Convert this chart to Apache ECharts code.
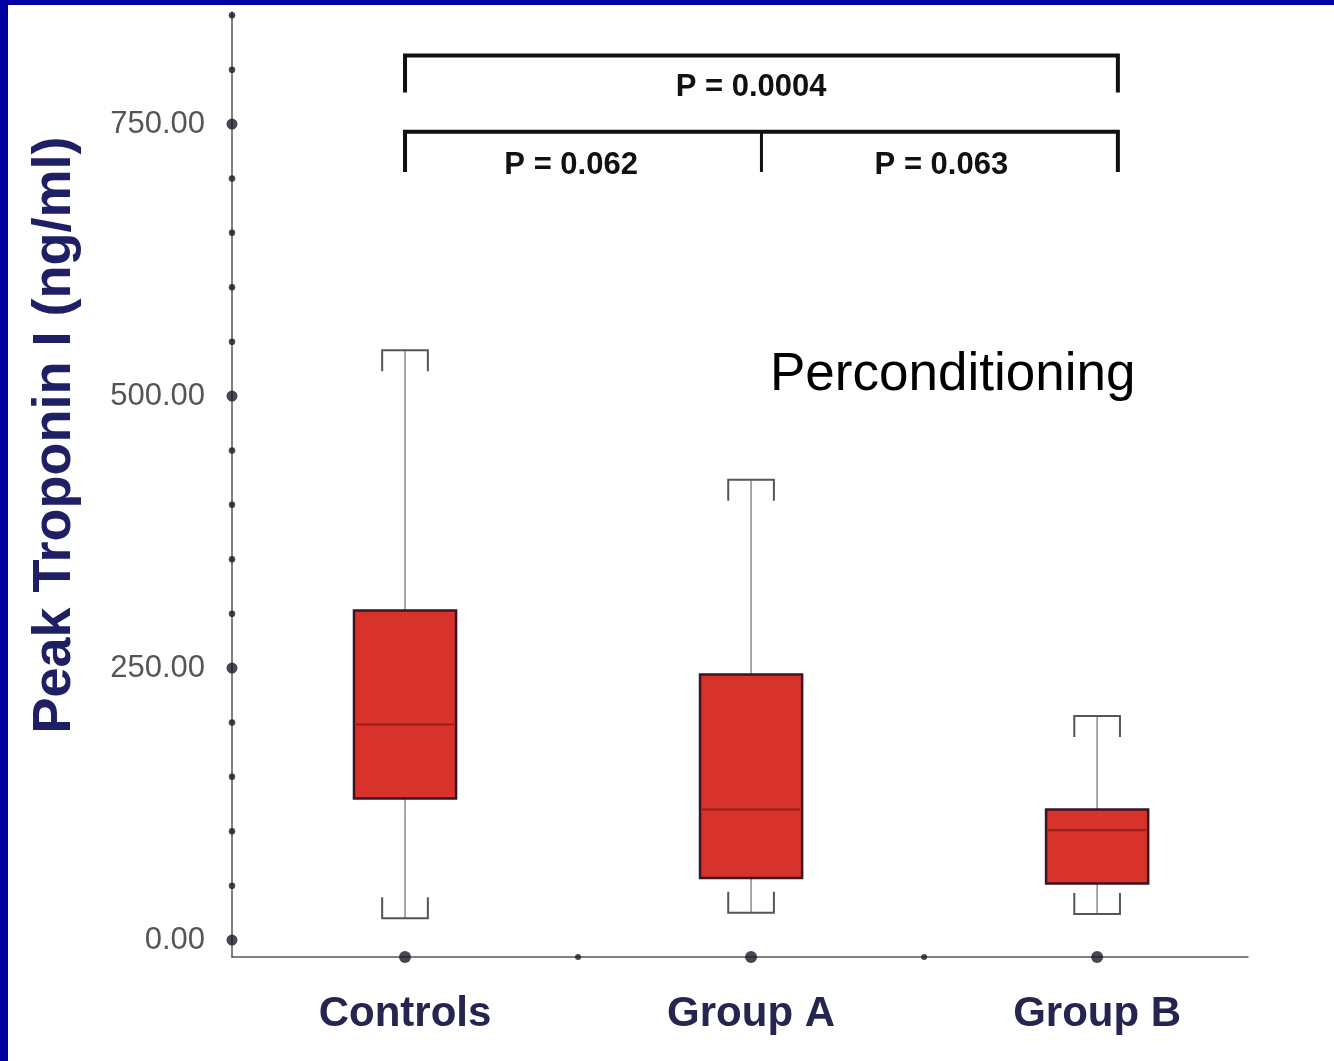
<!DOCTYPE html>
<html>
<head>
<meta charset="utf-8">
<script src="https://cdn.jsdelivr.net/npm/echarts@6/dist/echarts.min.js"></script>
<style>
html,body{margin:0;padding:0;background:#fff;}
#chart{width:1334px;height:1061px;}
</style>
</head>
<body>
<div id="chart"></div>
<script>
// ---- data ----
const categories = ['Controls', 'Group A', 'Group B'];
const lowWhisker  = [20, 25, 24];
const q1Values    = [130, 57, 52];
const medians     = [198, 120, 101];
const q3Values    = [303, 244, 120];
const highWhisker = [542, 423, 206];

const yMajorTicks = [0, 250, 500, 750];
const yMinorTicks = [50, 100, 150, 200, 300, 350, 400, 450, 550, 600, 650, 700, 800, 850];
const xMidTicks   = [0.5, 1.5];

const pLabels = ['P = 0.0004', 'P = 0.062', 'P = 0.063'];
const noteText = 'Perconditioning';
const yTitle = 'Peak Troponin I (ng/ml)';

// ---- build ----
const Y_MIN = -15.6, Y_MAX = 853;
const X_MIN = -0.5, X_MAX = 2.436;

const boxData = categories.map((c, i) => [i, lowWhisker[i], q1Values[i], medians[i], q3Values[i], highWhisker[i]]);

// brackets: [x1, x2, yTop, yEnd, xMid]
const brackets = [
  [0, 2.06, 813, 779, null],
  [0, 2.06, 743, 706, 1.03]
];
const pPositions = [[1.0, 784], [0.48, 712], [1.55, 712]];

function renderBox(params, api) {
  const x = api.value(0);
  const lo = api.coord([x, api.value(1)]);
  const q1 = api.coord([x, api.value(2)]);
  const md = api.coord([x, api.value(3)]);
  const q3 = api.coord([x, api.value(4)]);
  const hi = api.coord([x, api.value(5)]);
  const cx = lo[0];
  const hw = api.size([0.295, 0])[0] / 2;
  const ch = api.size([0.066, 0])[0];
  const tl = 21;
  return {
    type: 'group',
    children: [
      {type: 'line', shape: {x1: cx, y1: q3[1], x2: cx, y2: hi[1]}, style: {stroke: '#8c8c8c', lineWidth: 1.5}},
      {type: 'line', shape: {x1: cx, y1: q1[1], x2: cx, y2: lo[1]}, style: {stroke: '#8c8c8c', lineWidth: 1.5}},
      {type: 'polyline', shape: {points: [[cx - ch, hi[1] + tl], [cx - ch, hi[1]], [cx + ch, hi[1]], [cx + ch, hi[1] + tl]]}, style: {stroke: '#555', lineWidth: 2, fill: null}},
      {type: 'polyline', shape: {points: [[cx - ch, lo[1] - tl], [cx - ch, lo[1]], [cx + ch, lo[1]], [cx + ch, lo[1] - tl]]}, style: {stroke: '#555', lineWidth: 2, fill: null}},
      {type: 'rect', shape: {x: cx - hw, y: q3[1], width: 2 * hw, height: q1[1] - q3[1]}, style: {fill: '#d8332a', stroke: '#3a1426', lineWidth: 2.5}},
      {type: 'line', shape: {x1: cx - hw + 2, y1: md[1], x2: cx + hw - 2, y2: md[1]}, style: {stroke: '#9b1a1a', lineWidth: 2}}
    ]
  };
}

function renderBracket(params, api) {
  const b = brackets[params.dataIndex];
  const a = api.coord([b[0], b[2]]);
  const c = api.coord([b[1], b[2]]);
  const e = api.coord([b[0], b[3]]);
  const children = [
    {type: 'polyline', shape: {points: [[a[0], e[1]], [a[0], a[1]], [c[0], c[1]], [c[0], e[1]]]}, style: {stroke: '#111', lineWidth: 4, fill: null}}
  ];
  if (b[4] != null) {
    const m = api.coord([b[4], b[2]]);
    children.push({type: 'line', shape: {x1: m[0], y1: m[1], x2: m[0], y2: e[1]}, style: {stroke: '#111', lineWidth: 3}});
  }
  return {type: 'group', children: children};
}

function renderP(params, api) {
  const p = api.coord([api.value(0), api.value(1)]);
  return {
    type: 'text',
    style: {text: pLabels[params.dataIndex], x: p[0], y: p[1], align: 'center', verticalAlign: 'middle',
            font: 'bold 31px "Liberation Sans", Arial, sans-serif', fill: '#111'}
  };
}

const chart = echarts.init(document.getElementById('chart'));
chart.setOption({
  backgroundColor: '#ffffff',
  animation: false,
  grid: {left: 232, right: 86, top: 12, bottom: 104},
  xAxis: {
    type: 'value', min: X_MIN, max: X_MAX,
    splitLine: {show: false},
    axisLine: {show: true, onZero: false, lineStyle: {color: '#555', width: 1.5}},
    axisTick: {show: false},
    axisLabel: {
      customValues: [0, 1, 2],
      formatter: v => categories[Math.round(v)],
      margin: 36,
      color: '#25254f',
      fontSize: 42, fontWeight: 'bold', fontFamily: '"Liberation Sans", Arial, sans-serif'
    }
  },
  yAxis: {
    type: 'value', min: Y_MIN, max: Y_MAX,
    splitLine: {show: false},
    axisLine: {show: true, onZero: false, lineStyle: {color: '#555', width: 1.5}},
    axisTick: {show: false},
    axisLabel: {
      customValues: yMajorTicks,
      formatter: v => v.toFixed(2),
      margin: 27,
      color: '#555',
      fontSize: 31, fontFamily: '"Liberation Sans", Arial, sans-serif'
    }
  },
  graphic: [
    {type: 'rect', left: 0, top: 0, shape: {width: 8, height: 1061}, style: {fill: '#0000a0'}, z: 100},
    {type: 'rect', left: 0, top: 0, shape: {width: 1334, height: 5}, style: {fill: '#0000a0'}, z: 100},
    {type: 'text', x: 55, y: 435, rotation: Math.PI / 2,
     style: {text: yTitle, align: 'center', verticalAlign: 'middle', font: 'bold 54px "Liberation Sans", Arial, sans-serif', fill: '#1f1f66'}},
    {type: 'text', x: 770, y: 375,
     style: {text: noteText, align: 'left', verticalAlign: 'middle', font: '53px "Liberation Sans", Arial, sans-serif', fill: '#000'}}
  ],
  series: [
    {
      type: 'custom', name: 'box', renderItem: renderBox, data: boxData,
      encode: {x: 0, y: [1, 2, 3, 4, 5]}, clip: false, z: 3
    },
    {
      type: 'custom', name: 'brackets', renderItem: renderBracket, data: brackets.map(b => [b[0], b[2]]), clip: false, z: 3
    },
    {
      type: 'custom', name: 'pvalues', renderItem: renderP, data: pPositions, clip: false, z: 3
    },
    {
      type: 'scatter', name: 'yMajor', symbolSize: 11, itemStyle: {color: '#1a1a2a'}, clip: false, z: 4,
      data: yMajorTicks.map(v => [X_MIN, v])
    },
    {
      type: 'scatter', name: 'yMinor', symbolSize: 6.5, itemStyle: {color: '#1a1a2a'}, clip: false, z: 4,
      data: yMinorTicks.map(v => [X_MIN, v])
    },
    {
      type: 'scatter', name: 'xMajor', symbolSize: 12, itemStyle: {color: '#1a1a2a'}, clip: false, z: 4,
      data: categories.map((c, i) => [i, Y_MIN])
    },
    {
      type: 'scatter', name: 'xMinor', symbolSize: 6, itemStyle: {color: '#1a1a2a'}, clip: false, z: 4,
      data: xMidTicks.map(v => [v, Y_MIN])
    }
  ]
});
</script>
</body>
</html>
